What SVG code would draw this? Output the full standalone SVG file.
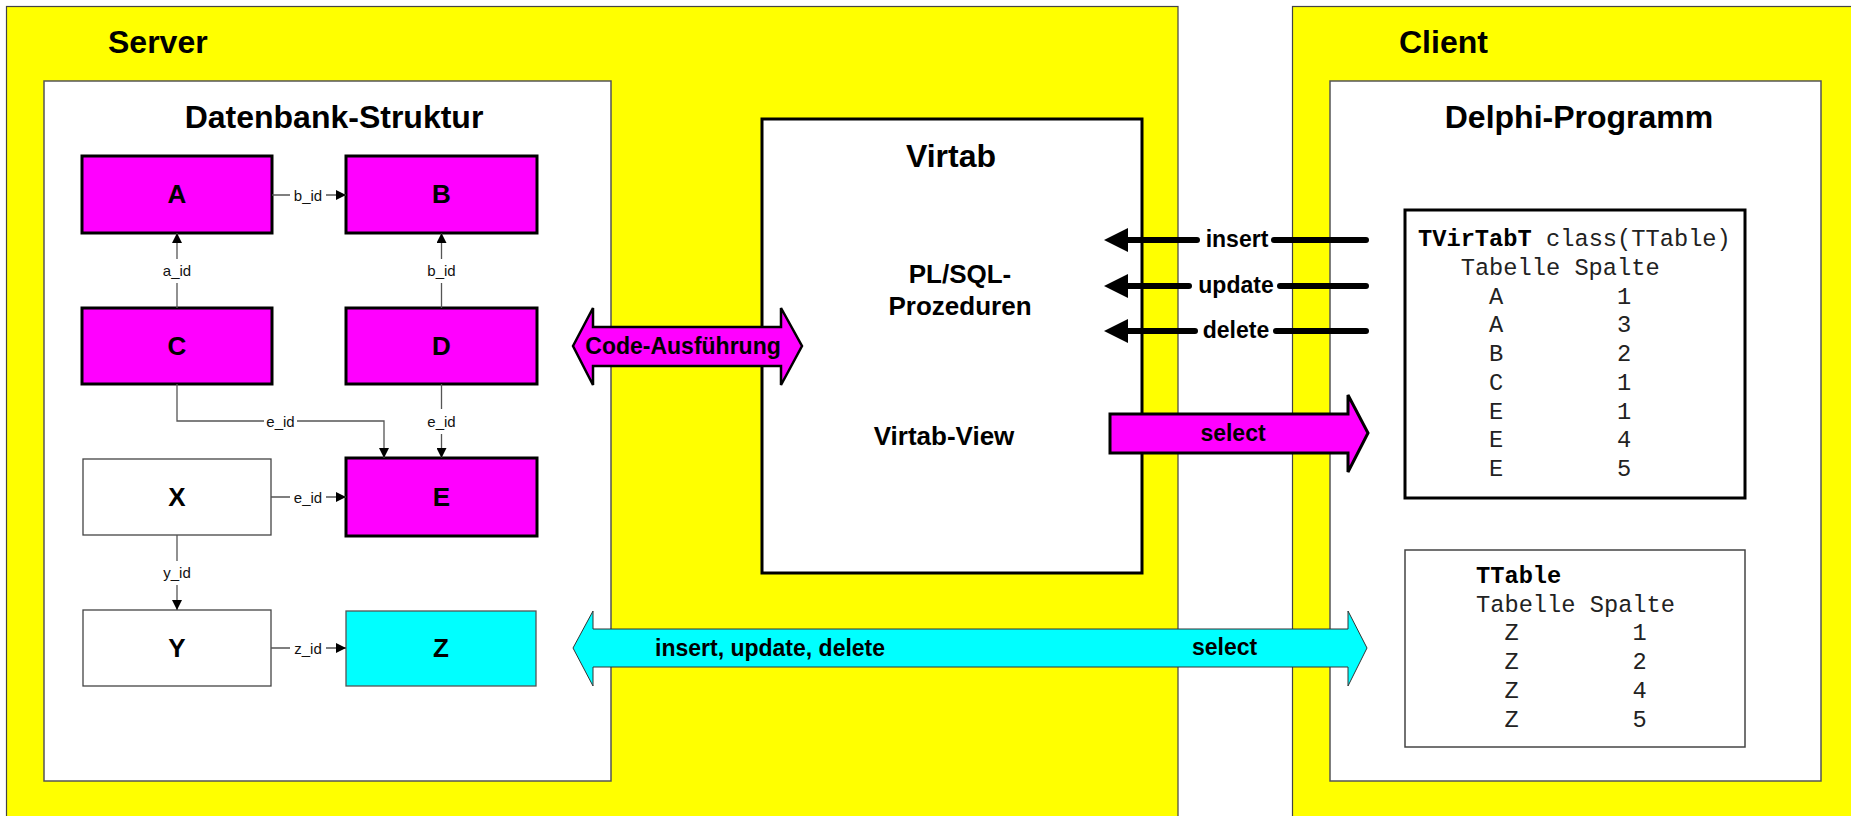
<svg xmlns="http://www.w3.org/2000/svg" width="1851" height="816" viewBox="0 0 1851 816">
<style>
.zone{fill:#FFFF00;stroke:#444;stroke-width:1.2}
.panel{fill:#fff;stroke:#555;stroke-width:1.5}
.title{font-family:"Liberation Sans",Arial,sans-serif;font-weight:bold;font-size:32px;fill:#000}
.mid{text-anchor:middle}
.ent{stroke:#000;stroke-width:3}
.mag{fill:#FF00FF}
.plain{fill:#fff;stroke:#444;stroke-width:1.3}
.cyanbox{fill:#00FFFF;stroke:#555;stroke-width:1.3}
.elabel{font-family:"Liberation Sans",Arial,sans-serif;font-weight:bold;font-size:26px;text-anchor:middle;fill:#000}
.rel{fill:none;stroke:#555;stroke-width:1.3}
.rlabel{font-family:"Liberation Sans",Arial,sans-serif;font-size:15px;text-anchor:middle;fill:#111}
.bg{fill:#fff}
.big{font-family:"Liberation Sans",Arial,sans-serif;font-weight:bold;font-size:23px;fill:#000}
.sub{font-family:"Liberation Sans",Arial,sans-serif;font-weight:bold;font-size:26px;text-anchor:middle;fill:#000}
.thick{fill:none;stroke:#000;stroke-width:6;stroke-linecap:round}
.mono{font-family:"Liberation Mono","Courier New",monospace;font-size:23.7px;fill:#222}
.monob{font-weight:bold;fill:#000}
</style>
<defs>
<marker id="ah" viewBox="0 0 10 10" refX="10" refY="5" markerWidth="11" markerHeight="10" markerUnits="userSpaceOnUse" orient="auto">
<path d="M0,0 L10,5 L0,10 z" fill="#000"/>
</marker>
</defs>

<g id="server">
<rect class="zone" x="6.5" y="6.5" width="1171.5" height="830"/>
<text class="title" x="108" y="53">Server</text>
</g>
<g id="client">
<rect class="zone" x="1292.5" y="6.5" width="580" height="830"/>
<text class="title" x="1399" y="53">Client</text>
</g>

<g id="datenbank">
<rect class="panel" x="44" y="81" width="567" height="700"/>
<text class="title mid" x="334" y="128">Datenbank-Struktur</text>
</g>
<g id="delphi">
<rect class="panel" x="1330" y="81" width="491" height="700"/>
<text class="title mid" x="1579" y="128">Delphi-Programm</text>
</g>

<g id="node-A"><rect class="ent mag" x="82" y="156" width="190" height="77"/><text class="elabel" x="177" y="203">A</text></g>
<g id="node-B"><rect class="ent mag" x="346" y="156" width="191" height="77"/><text class="elabel" x="441.5" y="203">B</text></g>
<g id="node-C"><rect class="ent mag" x="82" y="308" width="190" height="76"/><text class="elabel" x="177" y="355">C</text></g>
<g id="node-D"><rect class="ent mag" x="346" y="308" width="191" height="76"/><text class="elabel" x="441.5" y="355">D</text></g>
<g id="node-X"><rect class="plain" x="83" y="459" width="188" height="76"/><text class="elabel" x="177" y="506">X</text></g>
<g id="node-E"><rect class="ent mag" x="346" y="458" width="191" height="78"/><text class="elabel" x="441.5" y="506">E</text></g>
<g id="node-Y"><rect class="plain" x="83" y="610" width="188" height="76"/><text class="elabel" x="177" y="657">Y</text></g>
<g id="node-Z"><rect class="cyanbox" x="346" y="611" width="190" height="75"/><text class="elabel" x="441" y="657">Z</text></g>

<g id="virtab">
<rect x="762" y="119" width="380" height="454" fill="#fff" stroke="#000" stroke-width="3"/>
<text class="title mid" x="951" y="167">Virtab</text>
<text class="sub" x="960" y="283">PL/SQL-</text>
<text class="sub" x="960" y="315">Prozeduren</text>
<text class="sub" x="944" y="445">Virtab-View</text>
</g>

<g id="tvirtabt">
<rect x="1405" y="210" width="340" height="288" fill="#fff" stroke="#000" stroke-width="3"/>
<text class="mono"><tspan class="monob" x="1418" y="246">TVirTabT</tspan><tspan x="1546" y="246">class(TTable)</tspan></text>
<text class="mono" x="1460.7" y="274.8">Tabelle Spalte</text>
<g class="mono">
<text x="1489" y="303.5">A</text><text x="1617" y="303.5">1</text>
<text x="1489" y="332.3">A</text><text x="1617" y="332.3">3</text>
<text x="1489" y="361">B</text><text x="1617" y="361">2</text>
<text x="1489" y="389.8">C</text><text x="1617" y="389.8">1</text>
<text x="1489" y="418.5">E</text><text x="1617" y="418.5">1</text>
<text x="1489" y="447.3">E</text><text x="1617" y="447.3">4</text>
<text x="1489" y="476">E</text><text x="1617" y="476">5</text>
</g>
</g>

<g id="ttable">
<rect x="1405" y="550" width="340" height="197" fill="#fff" stroke="#444" stroke-width="1.5"/>
<text class="mono monob" x="1476" y="583">TTable</text>
<text class="mono" x="1476" y="611.7">Tabelle Spalte</text>
<g class="mono">
<text x="1504.4" y="640.4">Z</text><text x="1632.4" y="640.4">1</text>
<text x="1504.4" y="669.1">Z</text><text x="1632.4" y="669.1">2</text>
<text x="1504.4" y="697.8">Z</text><text x="1632.4" y="697.8">4</text>
<text x="1504.4" y="726.5">Z</text><text x="1632.4" y="726.5">5</text>
</g>
</g>

<g id="connectors">
<path class="rel" d="M272,195 H346" marker-end="url(#ah)"/>
<rect class="bg" x="290" y="187" width="36" height="16"/>
<text class="rlabel" x="308" y="200.5">b_id</text>

<path class="rel" d="M177,308 V233" marker-end="url(#ah)"/>
<rect class="bg" x="160" y="259" width="34" height="24"/>
<text class="rlabel" x="177" y="275.5">a_id</text>

<path class="rel" d="M441.5,308 V233" marker-end="url(#ah)"/>
<rect class="bg" x="424" y="259" width="35" height="24"/>
<text class="rlabel" x="441.5" y="275.5">b_id</text>

<path class="rel" d="M177,384 V421 H384 V458" marker-end="url(#ah)"/>
<rect class="bg" x="264" y="413" width="33" height="16"/>
<text class="rlabel" x="280.5" y="427">e_id</text>

<path class="rel" d="M441.5,384 V458" marker-end="url(#ah)"/>
<rect class="bg" x="424" y="409" width="35" height="25"/>
<text class="rlabel" x="441.5" y="427">e_id</text>

<path class="rel" d="M271,497 H346" marker-end="url(#ah)"/>
<rect class="bg" x="290" y="489" width="36" height="16"/>
<text class="rlabel" x="308" y="502.5">e_id</text>

<path class="rel" d="M177,535 V610" marker-end="url(#ah)"/>
<rect class="bg" x="160" y="561" width="34" height="24"/>
<text class="rlabel" x="177" y="578">y_id</text>

<path class="rel" d="M271,648 H346" marker-end="url(#ah)"/>
<rect class="bg" x="290" y="640" width="36" height="16"/>
<text class="rlabel" x="308" y="653.5">z_id</text>

<g id="code-ausfuehrung">
<polygon points="573,346 593,308 593,327 781,327 781,308 802,346 781,385 781,366 593,366 593,385" fill="#FF00FF" stroke="#000" stroke-width="2.5" stroke-linejoin="miter"/>
<text class="big mid" x="683" y="354">Code-Ausführung</text>
</g>

<g id="insert">
<polygon points="1104,240 1128,228 1128,252" fill="#000"/>
<path class="thick" d="M1124,240 H1197 M1274,240 H1366"/>
<text class="big mid" x="1237" y="247">insert</text>
</g>
<g id="update">
<polygon points="1104,286 1128,274 1128,298" fill="#000"/>
<path class="thick" d="M1124,286 H1189 M1280,286 H1366"/>
<text class="big mid" x="1236" y="293">update</text>
</g>
<g id="delete">
<polygon points="1104,331 1128,319 1128,343" fill="#000"/>
<path class="thick" d="M1124,331 H1195 M1276,331 H1366"/>
<text class="big mid" x="1236" y="338">delete</text>
</g>

<g id="select-view">
<polygon points="1110,414 1348,414 1348,395 1368,433 1348,472 1348,453 1110,453" fill="#FF00FF" stroke="#000" stroke-width="3"/>
<text class="big mid" x="1233" y="441">select</text>
</g>

<g id="table-access">
<polygon points="573,648 593,611 593,629 1348,629 1348,611 1367,648 1348,686 1348,667 593,667 593,686" fill="#00FFFF" stroke="#333" stroke-width="1"/>
<text class="big" x="655" y="656">insert, update, delete</text>
<text class="big" x="1192" y="655">select</text>
</g>
</g>
</svg>
